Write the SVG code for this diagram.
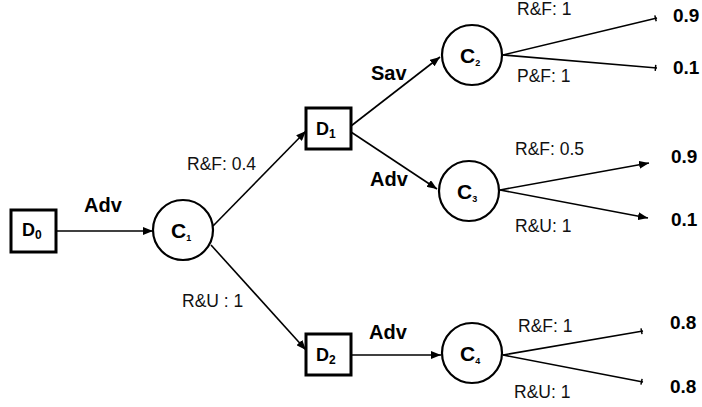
<svg xmlns="http://www.w3.org/2000/svg" width="702" height="407" viewBox="0 0 702 407">
<style>
.box{fill:#fff;stroke:#000;stroke-width:3}
.cir{fill:#fff;stroke:#000;stroke-width:2.2}
.edge{fill:none;stroke:#000;stroke-width:1.6}
.lbl{font-family:"Liberation Sans",Arial,sans-serif;font-size:17.5px;fill:#111}
.blbl{font-family:"Liberation Sans",Arial,sans-serif;font-size:20px;font-weight:bold;fill:#000}
.val{font-family:"Liberation Sans",Arial,sans-serif;font-size:19px;font-weight:bold;fill:#000}
.nd{font-family:"Liberation Sans",Arial,sans-serif;font-size:18px;font-weight:bold;fill:#000}
.cn{font-family:"Liberation Sans",Arial,sans-serif;font-size:21px;font-weight:bold;fill:#000}
.sub{font-size:12px}
.csub{font-size:9px}
</style>
<defs>
<marker id="arr" markerUnits="userSpaceOnUse" markerWidth="10" markerHeight="8" refX="10" refY="4" orient="auto">
<path d="M0,0 L10,4 L0,8 z" fill="#000"/>
</marker>
<marker id="tick" markerUnits="userSpaceOnUse" markerWidth="4" markerHeight="8" refX="3" refY="4" orient="auto">
<path d="M1.5,1 L1.5,7" stroke="#000" stroke-width="1.5"/>
</marker>
</defs>
<g id="connectors">
<line class="edge" x1="57" y1="231" x2="153" y2="231" marker-end="url(#arr)"/>
<line class="edge" x1="213" y1="226" x2="306" y2="131" marker-end="url(#arr)"/>
<line class="edge" x1="211" y1="245" x2="306" y2="350" marker-end="url(#arr)"/>
<line class="edge" x1="351" y1="126" x2="440" y2="57" marker-end="url(#arr)"/>
<line class="edge" x1="351" y1="132" x2="437" y2="189" marker-end="url(#arr)"/>
<line class="edge" x1="351" y1="355" x2="441" y2="355" marker-end="url(#arr)"/>
<line class="edge" x1="503" y1="55" x2="657" y2="18" marker-end="url(#tick)"/>
<line class="edge" x1="503" y1="55" x2="657" y2="68" marker-end="url(#tick)"/>
<line class="edge" x1="500" y1="190" x2="649" y2="163" marker-end="url(#arr)"/>
<line class="edge" x1="500" y1="190" x2="648" y2="218" marker-end="url(#arr)"/>
<line class="edge" x1="503" y1="355" x2="643" y2="331" marker-end="url(#tick)"/>
<line class="edge" x1="503" y1="355" x2="643" y2="382" marker-end="url(#tick)"/>
</g>
<g id="edge-labels">
<text class="blbl" x="84" y="212">Adv</text>
<text class="lbl" x="187" y="170">R&amp;F: 0.4</text>
<text class="lbl" x="182" y="307">R&amp;U : 1</text>
<text class="blbl" x="371" y="80">Sav</text>
<text class="blbl" x="370" y="186">Adv</text>
<text class="blbl" x="369" y="339">Adv</text>
<text class="lbl" x="517" y="15">R&amp;F: 1</text>
<text class="lbl" x="517" y="82">P&amp;F: 1</text>
<text class="lbl" x="515" y="155">R&amp;F: 0.5</text>
<text class="lbl" x="515" y="232">R&amp;U: 1</text>
<text class="lbl" x="518" y="332">R&amp;F: 1</text>
<text class="lbl" x="514" y="398">R&amp;U: 1</text>
<text class="val" x="673" y="22">0.9</text>
<text class="val" x="673" y="74">0.1</text>
<text class="val" x="671" y="163">0.9</text>
<text class="val" x="671" y="226">0.1</text>
<text class="val" x="670" y="329">0.8</text>
<text class="val" x="670" y="393">0.8</text>
</g>
<g id="D0">
<rect class="box" x="11" y="210" width="45" height="42"/>
<text class="nd" x="22" y="236">D<tspan class="sub" dy="3">0</tspan></text>
</g>
<g id="C1">
<circle class="cir" cx="183" cy="230" r="30"/>
<text class="cn" x="171" y="238">C<tspan class="csub" dy="3">1</tspan></text>
</g>
<g id="D1">
<rect class="box" x="306" y="108" width="45" height="41"/>
<text class="nd" x="316" y="135">D<tspan class="sub" dy="3">1</tspan></text>
</g>
<g id="D2">
<rect class="box" x="306" y="334" width="45" height="41"/>
<text class="nd" x="316" y="361">D<tspan class="sub" dy="3">2</tspan></text>
</g>
<g id="C2">
<circle class="cir" cx="472" cy="55" r="30"/>
<text class="cn" x="460" y="63">C<tspan class="csub" dy="3">2</tspan></text>
</g>
<g id="C3">
<circle class="cir" cx="469" cy="191" r="30"/>
<text class="cn" x="457" y="199">C<tspan class="csub" dy="3">3</tspan></text>
</g>
<g id="C4">
<circle class="cir" cx="472" cy="353" r="30"/>
<text class="cn" x="460" y="361">C<tspan class="csub" dy="3">4</tspan></text>
</g>
</svg>
